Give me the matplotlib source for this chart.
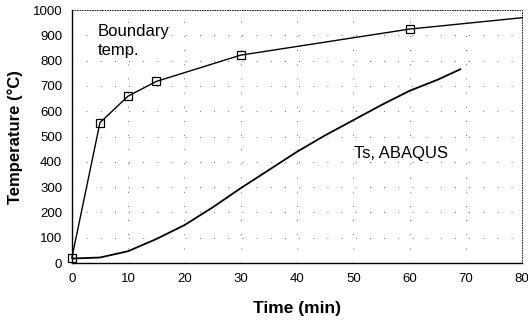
import matplotlib.pyplot as plt

plt.rcParams["font.family"] = ["Liberation Sans", "DejaVu Sans"]

# Boundary temperature (measured points)
boundary_time = [0, 5, 10, 15, 30, 60, 80]
boundary_temp = [20, 555, 660, 718, 822, 925, 970]

# Surface temperature from ABAQUS
ts_time = [0, 5, 10, 15, 20, 25, 30, 35, 40, 45, 50, 55, 60, 65, 69]
ts_temp = [18, 22, 47, 95, 150, 220, 296, 368, 440, 505, 565, 625, 681, 725, 766]

x_ticks = list(range(0, 81, 10))
y_ticks = list(range(0, 1001, 100))

fig = plt.figure(figsize=(5.28, 3.26), dpi=100)
ax = fig.add_axes([0.136, 0.193, 0.853, 0.776])

ax.plot(boundary_time, boundary_temp, color="black", lw=1.0,
        marker="s", markersize=6, markerfacecolor="none",
        markeredgecolor="black", markeredgewidth=0.9,
        markevery=list(range(len(boundary_time) - 1)), clip_on=False)
ax.plot(ts_time, ts_temp, color="black", lw=1.3)

ax.set_xlim(0, 80)
ax.set_ylim(0, 1000)
ax.set_xticks(x_ticks)
ax.set_yticks(y_ticks)
ax.tick_params(length=0, labelsize=9.5, pad=7)
ax.grid(True, color="#444444", lw=0.6, linestyle=(0, (1, 16)))

for s in ["top", "right"]:
    ax.spines[s].set_linestyle((0, (1, 2)))
    ax.spines[s].set_linewidth(0.6)
for s in ["left", "bottom"]:
    ax.spines[s].set_linewidth(1.0)

ax.set_xlabel("Time (min)", fontsize=12.5, fontweight="bold", labelpad=12)
ax.set_ylabel("Temperature (\u00b0C)", fontsize=12, fontweight="bold", labelpad=7)

ax.text(4.6, 945, "Boundary\ntemp.", fontsize=12, va="top", ha="left",
        linespacing=1.3)
ax.text(58.5, 435, "Ts, ABAQUS", fontsize=12, va="center", ha="center")

fig.savefig("out.png", dpi=100)
